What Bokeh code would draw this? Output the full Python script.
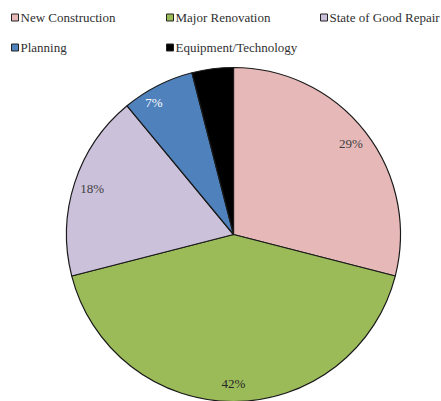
import math
from bokeh.plotting import figure
from bokeh.models import Range1d, ColumnDataSource
from bokeh.core.properties import value
from bokeh.embed import file_html
from bokeh.resources import INLINE

# ---- data ----
categories = ["New Construction", "Major Renovation", "State of Good Repair",
              "Planning", "Equipment/Technology"]
shares = [29, 42, 18, 7, 4]
labels = ["29%", "42%", "18%", "7%", ""]
colors = ["#E6B9B8", "#9BBB59", "#CCC1DA", "#4F81BD", "#000000"]
label_colors = ["#404040", "#262626", "#404040", "#FFFFFF", "#FFFFFF"]

# ---- layout (screen px) ----
W, H = 441, 401
cx_s, cy_s = 233, 234    # pie centre in picture pixels
R = 167

# data coords: origin at pie centre, y up, 1 unit = 1 px
x0 = 0 - cx_s
y_top = cy_s - 0
p = figure(width=W, height=H, output_backend="svg", toolbar_location=None,
           x_range=Range1d(x0, x0 + W), y_range=Range1d(y_top - H, y_top),
           x_axis_location=None, y_axis_location=None, min_border=0,
           outline_line_color=None)
p.grid.visible = False
p.background_fill_color = "white"

total = float(sum(shares))
starts, ends, lx, ly = [], [], [], []
cum = 0.0
for s in shares:
    a0 = math.pi / 2 - 2 * math.pi * cum / total
    cum += s
    a1 = math.pi / 2 - 2 * math.pi * cum / total
    starts.append(a1)
    ends.append(a0)
    mid = (a0 + a1) / 2
    lx.append(0.89 * R * math.cos(mid))
    ly.append(0.89 * R * math.sin(mid))

src = ColumnDataSource(dict(start=starts, end=ends, color=colors,
                            lx=lx, ly=ly, label=labels, lc=label_colors))
p.wedge(x=0, y=0, radius=R, start_angle="start", end_angle="end",
        direction="anticlock", fill_color="color", line_color="#1a1a1a",
        line_width=1.2, source=src)
# the small "7%" label sits a bit further left
src.data["xoff"] = [0, 0, 0, -12, 0]
p.text(x="lx", y="ly", text="label", text_color="lc", source=src,
       x_offset="xoff",
       text_align="center", text_baseline="middle",
       text_font=value("Liberation Serif"), text_font_size="13px")

# ---- legend drawn manually ----
col_x = [14.5, 169.5, 323.5]   # marker centres (px)
row_y = [17, 47]
mx, my, tx, ty = [], [], [], []
for i, c in enumerate(categories):
    r, k = divmod(i, 3)
    mx.append(col_x[k] - cx_s)
    my.append(cy_s - row_y[r])
    tx.append(col_x[k] + 5.5 - cx_s)
    ty.append(cy_s - row_y[r])
lsrc = ColumnDataSource(dict(mx=mx, my=my, tx=tx, ty=ty, name=categories,
                             color=colors))
p.scatter(x="mx", y="my", marker="square", size=7, fill_color="color",
          line_color="#222222", line_width=1, source=lsrc)
p.text(x="tx", y="ty", text="name", source=lsrc, text_color="#303030",
       text_align="left", text_baseline="middle",
       text_font=value("Liberation Serif"), text_font_size="13px")

open("out.html", "w").write(file_html(p, INLINE))
